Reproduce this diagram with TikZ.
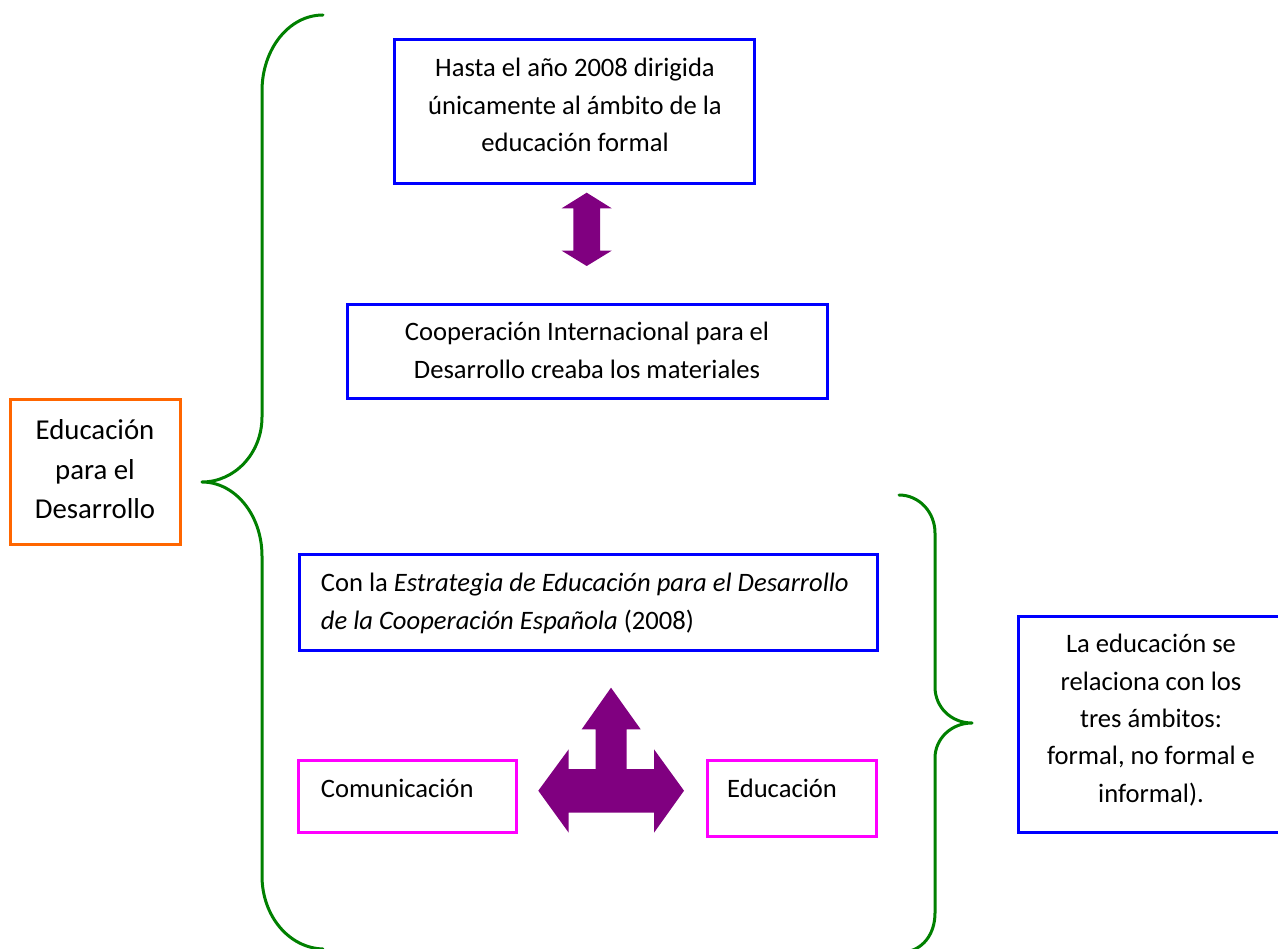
\documentclass[tikz,border=0pt]{standalone}
\usepackage{fontspec}
\setmainfont{Carlito}
\definecolor{cblue}{RGB}{0,0,255}
\definecolor{cpink}{RGB}{255,0,255}
\definecolor{corange}{RGB}{255,102,0}
\definecolor{cgreen}{RGB}{0,128,0}
\definecolor{cpurple}{RGB}{128,0,128}
\newcommand{\topstrut}{\rule{0pt}{24pt}}
\tikzset{
  boxbase/.style={draw, line width=3pt, rectangle, inner sep=0pt},
  bluebox/.style={boxbase, draw=cblue},
  pinkbox/.style={boxbase, draw=cpink},
  orangebox/.style={boxbase, draw=corange},
  txt/.style={inner sep=0pt, font=\fontsize{26.6pt}{37.3pt}\selectfont, text=black},
  bigtxt/.style={inner sep=0pt, font=\fontsize{28.8pt}{39.6pt}\selectfont, text=black},
  bracepath/.style={draw=cgreen, line width=3pt, line cap=round, line join=round},
  blockarrow/.style={fill=cpurple, draw=none}
}
\begin{document}
\begin{tikzpicture}[x=1pt, y=-1pt]
\useasboundingbox (0,0) rectangle (1278,949);
\fill[white] (0,0) rectangle (1278,949);

% boxes
\node[bluebox, minimum width=360pt, minimum height=144pt] (hasta) at (574,112) {};
\node[bluebox, minimum width=480pt, minimum height=94pt] (coop) at (587,352) {};
\node[orangebox, minimum width=170pt, minimum height=144pt] (edd) at (95,472) {};
\node[bluebox, minimum width=578pt, minimum height=96pt] (estr) at (588,602) {};
\node[pinkbox, minimum width=218pt, minimum height=72pt] (comu) at (407,796) {};
\node[pinkbox, minimum width=169pt, minimum height=76pt] (educ) at (791.5,798) {};
\node[bluebox, minimum width=266pt, minimum height=216pt] (rel) at (1151,724) {};

% texts
\node[txt, align=center, anchor=north] (hastat) at (575,52.7)
  {\topstrut Hasta el año 2008 dirigida\\únicamente al ámbito de la\\educación formal};
\node[txt, align=center, anchor=north] (coopt) at (587,316.7)
  {\topstrut Cooperación Internacional para el\\Desarrollo creaba los materiales};
\node[bigtxt, align=center, anchor=north] (eddt) at (95,415.3)
  {\topstrut Educación\\para el\\Desarrollo};
\node[txt, align=left, anchor=north west] (estrt) at (320.7,567.7)
  {\topstrut Con la \textit{Estrategia de Educación para el Desarrollo}\\\textit{de la Cooperación Española} (2008)};
\node[txt, anchor=base west] (comut) at (320.7,797.3) {Comunicación};
\node[txt, anchor=base west] (educt) at (727,797) {Educación};
\node[txt, align=center, anchor=north] (relt) at (1151,628.7)
  {\topstrut La educación se\\relaciona con los\\tres ámbitos:\\formal, no formal e\\informal).};

% left brace
\path[bracepath] (323,15) .. controls (289,15) and (262,49) .. (262,91)
  -- (262,417) .. controls (262,453) and (235,482) .. (202,482)
  .. controls (235,482) and (262,515) .. (262,556)
  -- (262,876) .. controls (262,916) and (289,948) .. (323,949);

% right brace
\path[bracepath] (899,495) .. controls (919,495) and (935,512) .. (935,533)
  -- (935,687) .. controls (935,707) and (951,723) .. (972,723)
  .. controls (951,723) and (935,739) .. (935,758)
  -- (935,913) .. controls (935,935) and (922,950) .. (905,952);

% double arrow
\path[blockarrow] (586.7,192.7) -- (611.7,208.3) -- (600,208.3) -- (600,250.7)
  -- (611.7,250.7) -- (586.7,266) -- (561.7,250.7) -- (573.3,250.7)
  -- (573.3,208.3) -- (561.7,208.3) -- cycle;

% three-way arrow
\path[blockarrow] (611,687.7) -- (640.7,729.3) -- (626.7,729.3) -- (626.7,769)
  -- (654,769) -- (654,749.3) -- (684,790.7) -- (654,832.7) -- (654,812.7)
  -- (568.7,812.7) -- (568.7,832.7) -- (538.3,790.7) -- (568.7,749.3)
  -- (568.7,769) -- (595.7,769) -- (595.7,729.3) -- (581.7,729.3) -- cycle;
\end{tikzpicture}
\end{document}
